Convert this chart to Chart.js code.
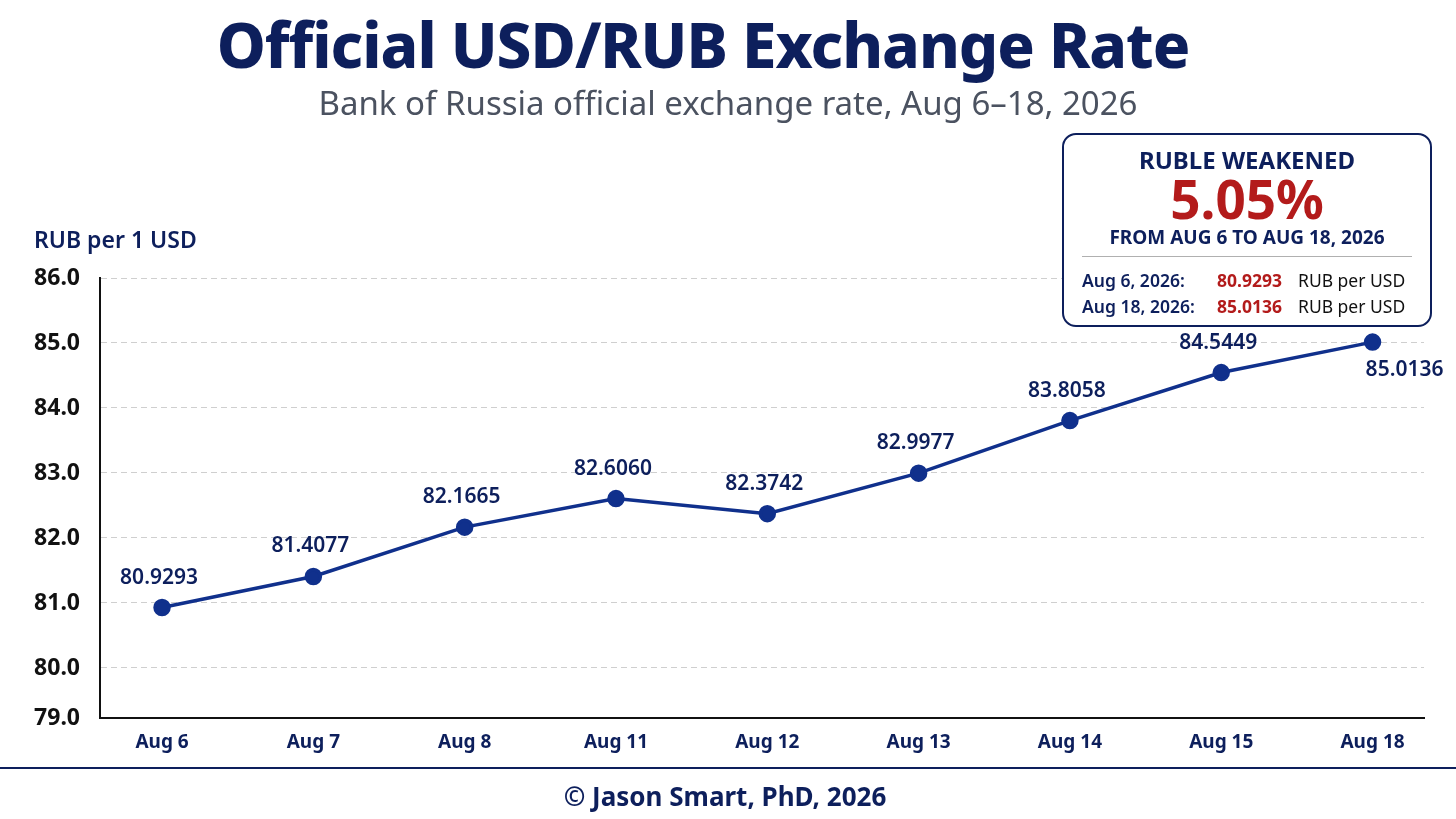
<!DOCTYPE html>
<html>
<head>
<meta charset="utf-8">
<script src="https://cdn.jsdelivr.net/npm/chart.js@4.4.1/dist/chart.umd.min.js"></script>
<style>
  html, body { margin: 0; padding: 0; background: #ffffff; }
  body { width: 1456px; height: 819px; position: relative; overflow: hidden; font-family: "Noto Sans", sans-serif; }
  #wrap { position: absolute; left: 0; top: 0; width: 1456px; height: 819px; }
  .abs { position: absolute; white-space: nowrap; }
  #title { left: 0; width: 1406px; top: 2px; text-align: center; font-size: 62px; font-weight: 800; color: #0d1f5c; letter-spacing: -1px; }
  #subtitle { left: 0; width: 1456px; top: 80px; text-align: center; font-size: 33px; color: #4b5260; }
  #ylabel { left: 34px; top: 223px; font-size: 23px; font-weight: 600; color: #0d1f5c; }
  #footerLine { left: 0; top: 767px; width: 1456px; height: 2px; background: #0d1f5c; }
  #footer { left: 0; width: 1450px; top: 778px; text-align: center; font-size: 26px; font-weight: 700; color: #0d1f5c; }
  #box { left: 1062px; top: 133px; width: 366px; height: 190px; border: 2px solid #0d1f5c; border-radius: 14px; background: #fff; }
  #box .c { position: absolute; left: 0; width: 366px; text-align: center; white-space: nowrap; }
  #b1 { top: 8px; font-size: 24px; font-weight: 700; color: #0d1f5c; }
  #b2 { top: 33px; font-size: 53px; font-weight: 700; color: #b31b1b; line-height: 62px; }
  #b3 { top: 89px; font-size: 19px; font-weight: 700; color: #0d1f5c; }
  #sep { position: absolute; left: 18px; top: 121px; width: 330px; height: 1px; background: #b0b0b0; }
  .row { position: absolute; left: 18px; font-size: 17.5px; white-space: nowrap; }
  .row .d { position: absolute; left: 0; font-weight: 600; color: #0d1f5c; }
  .row .v { position: absolute; left: 135px; font-weight: 700; color: #b31b1b; }
  .row .u { position: absolute; left: 216px; color: #111; }
</style>
</head>
<body>
<div id="wrap"><canvas id="rateChart" width="1456" height="819"></canvas></div>
<div id="title" class="abs">Official USD/RUB Exchange Rate</div>
<div id="subtitle" class="abs">Bank of Russia official exchange rate, Aug 6–18, 2026</div>
<div id="ylabel" class="abs">RUB per 1 USD</div>
<div id="box" class="abs">
  <div id="b1" class="c">RUBLE WEAKENED</div>
  <div id="b2" class="c">5.05%</div>
  <div id="b3" class="c">FROM AUG 6 TO AUG 18, 2026</div>
  <div id="sep"></div>
  <div class="row" style="top:133px"><span class="d">Aug 6, 2026:</span><span class="v">80.9293</span><span class="u">RUB per USD</span></div>
  <div class="row" style="top:159px"><span class="d">Aug 18, 2026:</span><span class="v">85.0136</span><span class="u">RUB per USD</span></div>
</div>
<div id="footerLine" class="abs"></div>
<div id="footer" class="abs">© Jason Smart, PhD, 2026</div>
<script>
const dates = ['Aug 6', 'Aug 7', 'Aug 8', 'Aug 11', 'Aug 12', 'Aug 13', 'Aug 14', 'Aug 15', 'Aug 18'];
const rates = [80.9293, 81.4077, 82.1665, 82.6060, 82.3742, 82.9977, 83.8058, 84.5449, 85.0136];
const yTickValues = [79, 80, 81, 82, 83, 84, 85, 86];

const NAVY = '#0d1f5c';
const LINE = '#10308c';
const Y_MIN = 79.23; // bottom of the axis sits a bit above 79 in the original

// value labels above each point (last one sits below right)
const valueLabels = {
  id: 'valueLabels',
  afterDatasetsDraw(chart) {
    const ctx = chart.ctx;
    const meta = chart.getDatasetMeta(0);
    ctx.save();
    ctx.font = '600 21px "Noto Sans"';
    ctx.fillStyle = NAVY;
    ctx.textAlign = 'center';
    ctx.textBaseline = 'middle';
    meta.data.forEach((pt, i) => {
      const txt = rates[i].toFixed(4);
      if (i === rates.length - 1) {
        ctx.fillText(txt, pt.x + 32, pt.y + 28);
      } else {
        ctx.fillText(txt, pt.x - 3, pt.y - 30);
      }
    });
    ctx.restore();
  }
};

const ctx = document.getElementById('rateChart').getContext('2d');
new Chart(ctx, {
  type: 'line',
  data: {
    datasets: [{
      label: 'USD/RUB',
      data: rates.map((v, i) => ({ x: i, y: v })),
      borderColor: LINE,
      backgroundColor: LINE,
      borderWidth: 3.5,
      pointRadius: 7,
      pointHoverRadius: 7,
      tension: 0,
      fill: false,
    }]
  },
  options: {
    responsive: false,
    animation: false,
    layout: { padding: { left: 0, top: 278, right: 32, bottom: 60 } },
    plugins: { legend: { display: false }, tooltip: { enabled: false } },
    scales: {
      x: {
        type: 'linear',
        min: -0.41,
        max: 8.34,
        afterBuildTicks: s => { s.ticks = dates.map((d, i) => ({ value: i })); },
        afterFit: s => { s.height = 41; },
        grid: { display: false, drawTicks: false },
        border: { display: true, color: '#111', width: 2 },
        ticks: {
          padding: 13,
          color: NAVY,
          font: { family: 'Noto Sans', size: 19, weight: '700' },
          callback: (v, i) => dates[i],
        }
      },
      y: {
        min: Y_MIN,
        max: 86,
        afterBuildTicks: s => { s.ticks = yTickValues.map(v => ({ value: Math.max(v, Y_MIN) })); },
        afterFit: s => { s.width = 100; },
        grid: {
          color: c => (c.index === 0 ? 'rgba(0,0,0,0)' : '#cfcfcf'),
          lineWidth: 1,
          drawTicks: false,
        },
        border: { display: true, color: '#111', width: 2, dash: [6, 4] },
        ticks: {
          padding: 20,
          color: '#111',
          font: { family: 'Noto Sans', size: 23, weight: '700' },
          callback: (v, i) => yTickValues[i].toFixed(1),
        }
      }
    }
  },
  plugins: [valueLabels]
});
</script>
</body>
</html>
